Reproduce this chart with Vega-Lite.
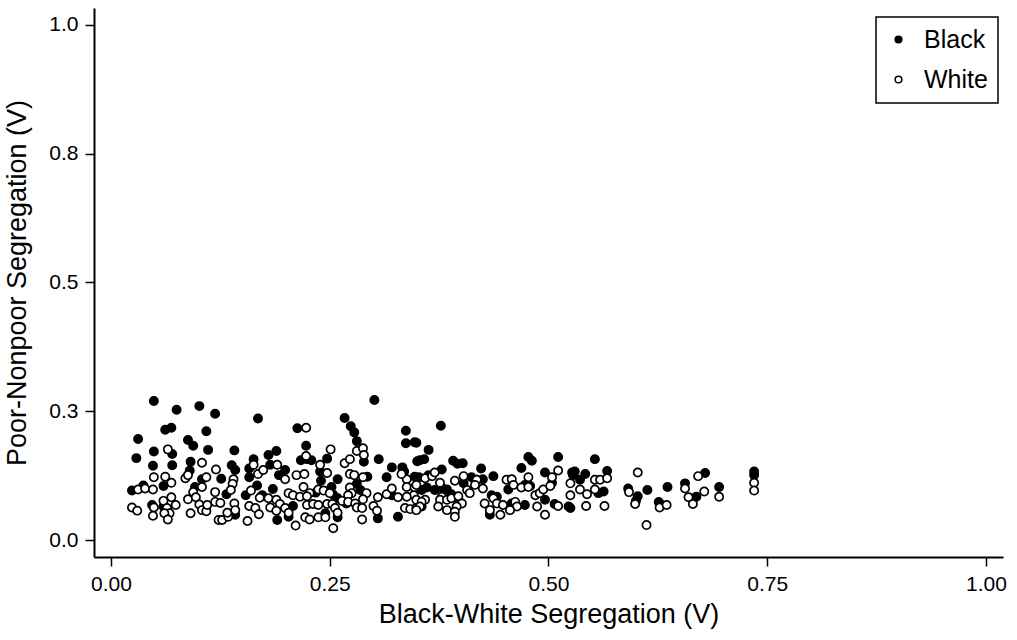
{
  "$schema": "https://vega.github.io/schema/vega-lite/v6.json",
  "width": 909,
  "height": 549,
  "autosize": {"type": "none"},
  "padding": {"left": 94, "top": 8, "right": 14, "bottom": 83},
  "background": "white",
  "config": {
    "view": {"stroke": null},
    "font": "Liberation Sans",
    "axis": {
      "grid": false,
      "domainColor": "black",
      "domainWidth": 2,
      "tickColor": "black",
      "tickWidth": 1.5,
      "tickSize": 9,
      "labelColor": "black",
      "labelFont": "Liberation Sans",
      "labelFontSize": 21,
      "labelPadding": 7,
      "titleColor": "black",
      "titleFont": "Liberation Sans",
      "titleFontSize": 27,
      "titleFontWeight": "normal"
    },
    "legend": {
      "orient": "none",
      "legendX": 782,
      "legendY": 9,
      "strokeColor": "black",
      "strokeWidth": 1.5,
      "fillColor": "white",
      "padding": 10,
      "rowPadding": 14,
      "labelFont": "Liberation Sans",
      "labelFontSize": 25,
      "labelColor": "black",
      "labelOffset": 13,
      "symbolType": "circle",
      "symbolSize": 45,
      "symbolStrokeColor": "black",
      "symbolStrokeWidth": 1.5
    }
  },
  "data": {
    "values": [
      {"race":"Black","x":0.049,"y":0.270},{"race":"Black","x":0.075,"y":0.253},{"race":"Black","x":0.101,"y":0.260},{"race":"Black","x":0.119,"y":0.245},{"race":"Black","x":0.168,"y":0.236},
      {"race":"Black","x":0.062,"y":0.214},{"race":"Black","x":0.069,"y":0.218},{"race":"Black","x":0.109,"y":0.211},{"race":"Black","x":0.031,"y":0.196},{"race":"Black","x":0.088,"y":0.194},
      {"race":"Black","x":0.094,"y":0.183},{"race":"Black","x":0.111,"y":0.175},{"race":"Black","x":0.141,"y":0.174},{"race":"Black","x":0.049,"y":0.172},{"race":"Black","x":0.029,"y":0.159},
      {"race":"Black","x":0.048,"y":0.144},{"race":"Black","x":0.070,"y":0.145},{"race":"Black","x":0.091,"y":0.152},{"race":"Black","x":0.070,"y":0.167},{"race":"Black","x":0.138,"y":0.145},
      {"race":"Black","x":0.142,"y":0.136},{"race":"Black","x":0.163,"y":0.157},{"race":"Black","x":0.158,"y":0.139},{"race":"Black","x":0.158,"y":0.122},{"race":"Black","x":0.167,"y":0.106},
      {"race":"Black","x":0.024,"y":0.096},{"race":"Black","x":0.037,"y":0.106},{"race":"Black","x":0.060,"y":0.105},{"race":"Black","x":0.090,"y":0.135},{"race":"Black","x":0.104,"y":0.118},
      {"race":"Black","x":0.126,"y":0.119},{"race":"Black","x":0.096,"y":0.103},{"race":"Black","x":0.132,"y":0.089},{"race":"Black","x":0.154,"y":0.087},{"race":"Black","x":0.060,"y":0.065},
      {"race":"Black","x":0.047,"y":0.068},{"race":"Black","x":0.109,"y":0.066},{"race":"Black","x":0.142,"y":0.049},{"race":"Black","x":0.172,"y":0.085},
      {"race":"Black","x":0.301,"y":0.272},{"race":"Black","x":0.267,"y":0.237},{"race":"Black","x":0.274,"y":0.221},{"race":"Black","x":0.278,"y":0.209},{"race":"Black","x":0.213,"y":0.217},
      {"race":"Black","x":0.223,"y":0.183},{"race":"Black","x":0.281,"y":0.192},{"race":"Black","x":0.337,"y":0.212},{"race":"Black","x":0.337,"y":0.188},{"race":"Black","x":0.347,"y":0.190},
      {"race":"Black","x":0.180,"y":0.165},{"race":"Black","x":0.189,"y":0.173},{"race":"Black","x":0.217,"y":0.155},{"race":"Black","x":0.224,"y":0.157},{"race":"Black","x":0.229,"y":0.155},
      {"race":"Black","x":0.247,"y":0.158},{"race":"Black","x":0.289,"y":0.152},{"race":"Black","x":0.306,"y":0.157},{"race":"Black","x":0.350,"y":0.153},{"race":"Black","x":0.182,"y":0.146},
      {"race":"Black","x":0.199,"y":0.136},{"race":"Black","x":0.239,"y":0.133},{"race":"Black","x":0.240,"y":0.115},{"race":"Black","x":0.321,"y":0.141},{"race":"Black","x":0.333,"y":0.141},
      {"race":"Black","x":0.335,"y":0.133},{"race":"Black","x":0.192,"y":0.126},{"race":"Black","x":0.259,"y":0.118},{"race":"Black","x":0.252,"y":0.103},{"race":"Black","x":0.293,"y":0.123},
      {"race":"Black","x":0.315,"y":0.122},{"race":"Black","x":0.347,"y":0.123},{"race":"Black","x":0.185,"y":0.099},{"race":"Black","x":0.173,"y":0.087},{"race":"Black","x":0.281,"y":0.109},
      {"race":"Black","x":0.285,"y":0.097},{"race":"Black","x":0.234,"y":0.092},{"race":"Black","x":0.254,"y":0.088},{"race":"Black","x":0.259,"y":0.081},{"race":"Black","x":0.321,"y":0.087},
      {"race":"Black","x":0.208,"y":0.066},{"race":"Black","x":0.269,"y":0.071},{"race":"Black","x":0.190,"y":0.039},{"race":"Black","x":0.203,"y":0.045},{"race":"Black","x":0.245,"y":0.052},
      {"race":"Black","x":0.305,"y":0.042},{"race":"Black","x":0.328,"y":0.045},{"race":"Black","x":0.259,"y":0.044},
      {"race":"Black","x":0.377,"y":0.222},{"race":"Black","x":0.349,"y":0.189},{"race":"Black","x":0.363,"y":0.175},{"race":"Black","x":0.353,"y":0.155},{"race":"Black","x":0.358,"y":0.157},
      {"race":"Black","x":0.391,"y":0.154},{"race":"Black","x":0.396,"y":0.148},{"race":"Black","x":0.402,"y":0.149},{"race":"Black","x":0.477,"y":0.161},{"race":"Black","x":0.481,"y":0.154},
      {"race":"Black","x":0.469,"y":0.140},{"race":"Black","x":0.511,"y":0.161},{"race":"Black","x":0.378,"y":0.137},{"race":"Black","x":0.423,"y":0.139},{"race":"Black","x":0.437,"y":0.124},
      {"race":"Black","x":0.496,"y":0.131},{"race":"Black","x":0.527,"y":0.131},{"race":"Black","x":0.352,"y":0.122},{"race":"Black","x":0.363,"y":0.126},{"race":"Black","x":0.370,"y":0.097},
      {"race":"Black","x":0.378,"y":0.102},{"race":"Black","x":0.384,"y":0.098},{"race":"Black","x":0.355,"y":0.097},{"race":"Black","x":0.361,"y":0.102},{"race":"Black","x":0.412,"y":0.122},
      {"race":"Black","x":0.418,"y":0.117},{"race":"Black","x":0.425,"y":0.118},{"race":"Black","x":0.403,"y":0.110},{"race":"Black","x":0.393,"y":0.083},{"race":"Black","x":0.389,"y":0.089},
      {"race":"Black","x":0.435,"y":0.087},{"race":"Black","x":0.441,"y":0.084},{"race":"Black","x":0.454,"y":0.098},{"race":"Black","x":0.473,"y":0.107},{"race":"Black","x":0.479,"y":0.105},
      {"race":"Black","x":0.504,"y":0.111},{"race":"Black","x":0.496,"y":0.078},{"race":"Black","x":0.473,"y":0.068},{"race":"Black","x":0.507,"y":0.070},{"race":"Black","x":0.523,"y":0.065},
      {"race":"Black","x":0.433,"y":0.049},{"race":"Black","x":0.458,"y":0.071},{"race":"Black","x":0.355,"y":0.065},
      {"race":"Black","x":0.553,"y":0.157},{"race":"Black","x":0.530,"y":0.133},{"race":"Black","x":0.528,"y":0.126},{"race":"Black","x":0.542,"y":0.128},{"race":"Black","x":0.536,"y":0.117},
      {"race":"Black","x":0.567,"y":0.134},{"race":"Black","x":0.563,"y":0.094},{"race":"Black","x":0.557,"y":0.091},{"race":"Black","x":0.525,"y":0.062},{"race":"Black","x":0.613,"y":0.097},
      {"race":"Black","x":0.636,"y":0.103},{"race":"Black","x":0.602,"y":0.085},{"race":"Black","x":0.600,"y":0.076},{"race":"Black","x":0.626,"y":0.074},{"race":"Black","x":0.629,"y":0.068},
      {"race":"Black","x":0.656,"y":0.110},{"race":"Black","x":0.679,"y":0.130},{"race":"Black","x":0.669,"y":0.084},{"race":"Black","x":0.666,"y":0.081},{"race":"Black","x":0.695,"y":0.103},
      {"race":"Black","x":0.591,"y":0.100},{"race":"Black","x":0.735,"y":0.133},{"race":"Black","x":0.735,"y":0.126},

      {"race":"White","x":0.065,"y":0.176},{"race":"White","x":0.104,"y":0.150},{"race":"White","x":0.049,"y":0.122},{"race":"White","x":0.062,"y":0.123},{"race":"White","x":0.069,"y":0.111},
      {"race":"White","x":0.085,"y":0.120},{"race":"White","x":0.088,"y":0.126},{"race":"White","x":0.109,"y":0.122},{"race":"White","x":0.120,"y":0.137},{"race":"White","x":0.104,"y":0.103},
      {"race":"White","x":0.140,"y":0.118},{"race":"White","x":0.139,"y":0.109},{"race":"White","x":0.137,"y":0.097},{"race":"White","x":0.168,"y":0.128},{"race":"White","x":0.163,"y":0.146},
      {"race":"White","x":0.031,"y":0.098},{"race":"White","x":0.039,"y":0.100},{"race":"White","x":0.048,"y":0.098},{"race":"White","x":0.094,"y":0.093},{"race":"White","x":0.119,"y":0.093},
      {"race":"White","x":0.160,"y":0.096},{"race":"White","x":0.170,"y":0.082},{"race":"White","x":0.088,"y":0.079},{"race":"White","x":0.097,"y":0.083},{"race":"White","x":0.119,"y":0.074},
      {"race":"White","x":0.125,"y":0.072},{"race":"White","x":0.024,"y":0.063},{"race":"White","x":0.030,"y":0.057},{"race":"White","x":0.049,"y":0.063},{"race":"White","x":0.048,"y":0.047},
      {"race":"White","x":0.060,"y":0.076},{"race":"White","x":0.069,"y":0.083},{"race":"White","x":0.074,"y":0.068},{"race":"White","x":0.064,"y":0.062},{"race":"White","x":0.067,"y":0.052},
      {"race":"White","x":0.061,"y":0.052},{"race":"White","x":0.065,"y":0.040},{"race":"White","x":0.091,"y":0.052},{"race":"White","x":0.101,"y":0.069},{"race":"White","x":0.104,"y":0.058},
      {"race":"White","x":0.109,"y":0.056},{"race":"White","x":0.110,"y":0.068},{"race":"White","x":0.123,"y":0.039},{"race":"White","x":0.127,"y":0.039},{"race":"White","x":0.134,"y":0.045},
      {"race":"White","x":0.133,"y":0.053},{"race":"White","x":0.141,"y":0.071},{"race":"White","x":0.142,"y":0.058},{"race":"White","x":0.156,"y":0.037},{"race":"White","x":0.158,"y":0.066},
      {"race":"White","x":0.165,"y":0.062},{"race":"White","x":0.169,"y":0.050},
      {"race":"White","x":0.223,"y":0.218},{"race":"White","x":0.251,"y":0.176},{"race":"White","x":0.281,"y":0.173},{"race":"White","x":0.288,"y":0.178},{"race":"White","x":0.289,"y":0.165},
      {"race":"White","x":0.267,"y":0.149},{"race":"White","x":0.273,"y":0.157},{"race":"White","x":0.223,"y":0.163},{"race":"White","x":0.239,"y":0.146},{"race":"White","x":0.247,"y":0.130},
      {"race":"White","x":0.212,"y":0.126},{"race":"White","x":0.221,"y":0.128},{"race":"White","x":0.190,"y":0.146},{"race":"White","x":0.174,"y":0.136},{"race":"White","x":0.273,"y":0.128},
      {"race":"White","x":0.278,"y":0.126},{"race":"White","x":0.288,"y":0.122},{"race":"White","x":0.338,"y":0.118},{"race":"White","x":0.332,"y":0.128},{"race":"White","x":0.199,"y":0.118},
      {"race":"White","x":0.220,"y":0.103},{"race":"White","x":0.227,"y":0.091},{"race":"White","x":0.237,"y":0.098},{"race":"White","x":0.243,"y":0.096},{"race":"White","x":0.250,"y":0.091},
      {"race":"White","x":0.273,"y":0.102},{"race":"White","x":0.275,"y":0.091},{"race":"White","x":0.271,"y":0.087},{"race":"White","x":0.292,"y":0.091},{"race":"White","x":0.288,"y":0.079},
      {"race":"White","x":0.315,"y":0.089},{"race":"White","x":0.321,"y":0.100},{"race":"White","x":0.338,"y":0.103},{"race":"White","x":0.347,"y":0.102},{"race":"White","x":0.346,"y":0.087},
      {"race":"White","x":0.338,"y":0.084},{"race":"White","x":0.328,"y":0.083},{"race":"White","x":0.305,"y":0.083},{"race":"White","x":0.203,"y":0.091},{"race":"White","x":0.208,"y":0.087},
      {"race":"White","x":0.216,"y":0.084},{"race":"White","x":0.224,"y":0.085},{"race":"White","x":0.180,"y":0.081},{"race":"White","x":0.189,"y":0.078},{"race":"White","x":0.193,"y":0.070},
      {"race":"White","x":0.182,"y":0.063},{"race":"White","x":0.189,"y":0.057},{"race":"White","x":0.199,"y":0.062},{"race":"White","x":0.224,"y":0.068},{"race":"White","x":0.231,"y":0.070},
      {"race":"White","x":0.237,"y":0.068},{"race":"White","x":0.247,"y":0.070},{"race":"White","x":0.253,"y":0.070},{"race":"White","x":0.256,"y":0.062},{"race":"White","x":0.259,"y":0.053},
      {"race":"White","x":0.264,"y":0.076},{"race":"White","x":0.271,"y":0.074},{"race":"White","x":0.279,"y":0.071},{"race":"White","x":0.281,"y":0.063},{"race":"White","x":0.287,"y":0.062},
      {"race":"White","x":0.300,"y":0.066},{"race":"White","x":0.304,"y":0.057},{"race":"White","x":0.336,"y":0.062},{"race":"White","x":0.342,"y":0.060},{"race":"White","x":0.349,"y":0.062},
      {"race":"White","x":0.203,"y":0.053},{"race":"White","x":0.222,"y":0.044},{"race":"White","x":0.227,"y":0.040},{"race":"White","x":0.237,"y":0.044},{"race":"White","x":0.245,"y":0.044},
      {"race":"White","x":0.211,"y":0.028},{"race":"White","x":0.254,"y":0.023},{"race":"White","x":0.287,"y":0.040},
      {"race":"White","x":0.359,"y":0.120},{"race":"White","x":0.367,"y":0.124},{"race":"White","x":0.370,"y":0.131},{"race":"White","x":0.376,"y":0.111},{"race":"White","x":0.393,"y":0.115},
      {"race":"White","x":0.403,"y":0.124},{"race":"White","x":0.418,"y":0.117},{"race":"White","x":0.425,"y":0.100},{"race":"White","x":0.416,"y":0.107},{"race":"White","x":0.452,"y":0.117},
      {"race":"White","x":0.458,"y":0.118},{"race":"White","x":0.460,"y":0.107},{"race":"White","x":0.477,"y":0.122},{"race":"White","x":0.469,"y":0.102},{"race":"White","x":0.477,"y":0.103},
      {"race":"White","x":0.485,"y":0.087},{"race":"White","x":0.490,"y":0.091},{"race":"White","x":0.504,"y":0.122},{"race":"White","x":0.511,"y":0.135},{"race":"White","x":0.494,"y":0.098},
      {"race":"White","x":0.502,"y":0.105},{"race":"White","x":0.525,"y":0.110},{"race":"White","x":0.525,"y":0.087},{"race":"White","x":0.407,"y":0.097},{"race":"White","x":0.410,"y":0.091},
      {"race":"White","x":0.349,"y":0.107},{"race":"White","x":0.349,"y":0.078},{"race":"White","x":0.359,"y":0.078},{"race":"White","x":0.355,"y":0.074},{"race":"White","x":0.378,"y":0.084},
      {"race":"White","x":0.376,"y":0.078},{"race":"White","x":0.384,"y":0.078},{"race":"White","x":0.389,"y":0.081},{"race":"White","x":0.397,"y":0.085},{"race":"White","x":0.401,"y":0.071},
      {"race":"White","x":0.395,"y":0.065},{"race":"White","x":0.353,"y":0.065},{"race":"White","x":0.349,"y":0.058},{"race":"White","x":0.374,"y":0.065},{"race":"White","x":0.384,"y":0.058},
      {"race":"White","x":0.393,"y":0.055},{"race":"White","x":0.393,"y":0.045},{"race":"White","x":0.427,"y":0.071},{"race":"White","x":0.437,"y":0.081},{"race":"White","x":0.441,"y":0.071},
      {"race":"White","x":0.433,"y":0.058},{"race":"White","x":0.445,"y":0.049},{"race":"White","x":0.448,"y":0.068},{"race":"White","x":0.462,"y":0.074},{"race":"White","x":0.464,"y":0.065},
      {"race":"White","x":0.456,"y":0.058},{"race":"White","x":0.487,"y":0.065},{"race":"White","x":0.496,"y":0.049},{"race":"White","x":0.511,"y":0.066},
      {"race":"White","x":0.536,"y":0.098},{"race":"White","x":0.544,"y":0.089},{"race":"White","x":0.553,"y":0.117},{"race":"White","x":0.559,"y":0.117},{"race":"White","x":0.567,"y":0.120},
      {"race":"White","x":0.553,"y":0.098},{"race":"White","x":0.543,"y":0.066},{"race":"White","x":0.564,"y":0.066},{"race":"White","x":0.602,"y":0.131},{"race":"White","x":0.592,"y":0.093},
      {"race":"White","x":0.599,"y":0.070},{"race":"White","x":0.627,"y":0.063},{"race":"White","x":0.635,"y":0.068},{"race":"White","x":0.612,"y":0.029},{"race":"White","x":0.656,"y":0.100},
      {"race":"White","x":0.660,"y":0.083},{"race":"White","x":0.665,"y":0.070},{"race":"White","x":0.671,"y":0.124},{"race":"White","x":0.678,"y":0.094},{"race":"White","x":0.695,"y":0.084},
      {"race":"White","x":0.735,"y":0.111},{"race":"White","x":0.735,"y":0.096}
    ]
  },
  "mark": {"type": "circle", "size": 68, "opacity": 1, "stroke": "black", "strokeWidth": 1.7},
  "encoding": {
    "x": {
      "field": "x",
      "type": "quantitative",
      "title": "Black-White Segregation (V)",
      "scale": {"domain": [-0.0194, 1.0194], "nice": false, "zero": false},
      "axis": {"values": [0, 0.25, 0.5, 0.75, 1], "format": ".2f", "titlePadding": 7}
    },
    "y": {
      "field": "y",
      "type": "quantitative",
      "title": "Poor-Nonpoor Segregation (V)",
      "scale": {"domain": [-0.033, 1.033], "nice": false, "zero": false},
      "axis": {"values": [0, 0.25, 0.5, 0.75, 1], "format": ".1f", "titlePadding": 17}
    },
    "fill": {
      "field": "race",
      "type": "nominal",
      "scale": {"domain": ["Black", "White"], "range": ["black", "white"]},
      "legend": {"title": null}
    }
  }
}
